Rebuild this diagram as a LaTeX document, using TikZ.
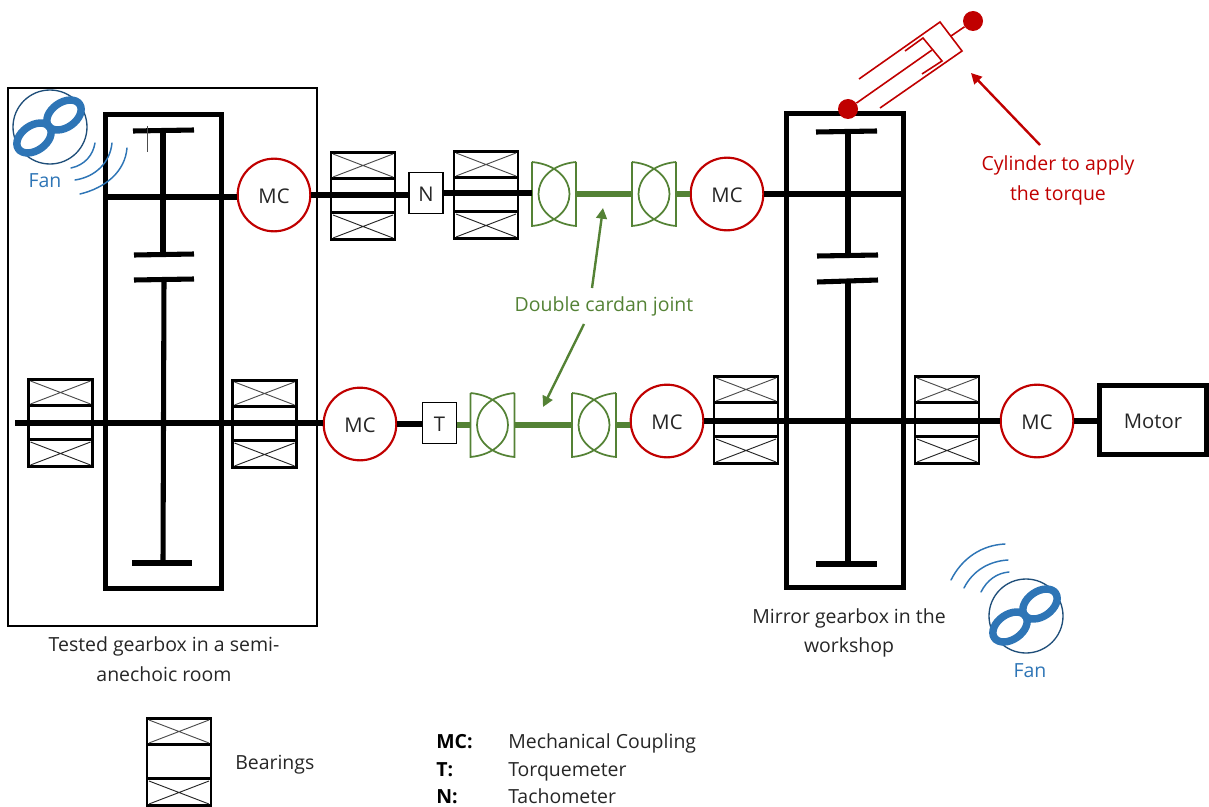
\documentclass[tikz,border=0pt]{standalone}
\usepackage{fontspec}
\setmainfont{Open Sans}
\usetikzlibrary{arrows.meta}
\definecolor{cred}{HTML}{C00000}
\definecolor{cgreen}{HTML}{548235}
\definecolor{cblue}{HTML}{2E75B6}
\definecolor{cnavy}{HTML}{1F4E79}
\tikzset{
  txt/.style={inner sep=0pt,anchor=base,font=\fontsize{14.6pt}{17pt}\selectfont,text=black!85},
  boldtxt/.style={inner sep=0pt,anchor=base west,font=\fontsize{14.6pt}{17pt}\selectfont\bfseries,text=black},
  mcnode/.style={circle,draw=cred,line width=1.6pt,minimum size=54.5pt,inner sep=0pt,font=\fontsize{15.2pt}{17pt}\selectfont,text=black!85,fill=white,text height=13pt,text depth=0pt},
  smallbox/.style={rectangle,draw=black,line width=1.1pt,minimum width=25.5pt,minimum height=30.5pt,inner sep=0pt,font=\fontsize{15.2pt}{17pt}\selectfont,text=black!85,fill=white,text height=13pt,text depth=0pt},
  motorbox/.style={rectangle,draw=black,line width=3.4pt,minimum width=80pt,minimum height=52pt,inner sep=0pt,font=\fontsize{15.2pt}{17pt}\selectfont,text=black!85,text height=12.5pt,text depth=0pt},
  gearbox/.style={rectangle,draw=black,line width=3.8pt,minimum width=87.5pt,inner sep=0pt},
  shaft/.style={draw=black,line width=4pt},
  gearbar/.style={draw=black,line width=3.8pt},
  gshaft/.style={draw=cgreen,line width=3.9pt},
  bearingbox/.style={rectangle,draw=black,line width=2.2pt,minimum width=48pt,minimum height=65.5pt,inner sep=0pt},
  jointbox/.style={rectangle,minimum width=33pt,minimum height=48pt,inner sep=0pt},
  jointline/.style={draw=cgreen,line width=1.3pt},
  cyl/.style={draw=cred,line width=1.2pt},
  ballnode/.style={circle,fill=cred,minimum size=15pt,inner sep=0pt},
  callg/.style={draw=cgreen,line width=1.8pt,-{Triangle[length=8pt,width=8pt]}},
  callr/.style={draw=cred,line width=1.8pt,-{Triangle[length=8pt,width=8pt]}},
  fanc/.style={circle,draw=cnavy,line width=1pt,minimum size=55.5pt,inner sep=0pt},
  fanlobe/.style={draw=cblue,line width=5.6pt},
  fanarc/.style={draw=cblue,line width=1.1pt,line cap=round},
}
\newcommand{\bearing}[3]{%
  \node[bearingbox] (#1) at (#2,#3) {};
  \draw[line width=2.2pt] (#2-32,#3-17.5) -- (#2+32,#3-17.5) (#2-32,#3+16.5) -- (#2+32,#3+16.5);
  \draw[line width=0.7pt,black!70] (#2-30,#3-42) -- (#2+30,#3-19) (#2-30,#3-19) -- (#2+30,#3-42);
  \draw[line width=0.7pt,black!85] (#2-30,#3+19) -- (#2+30,#3+42) (#2-30,#3+42) -- (#2+30,#3+19);
}
\newcommand{\joint}[3]{%
  \node[jointbox] (#1) at (#2,#3) {};
  \draw[jointline] (#2-22,#3-32) -- (#2-22,#3+32)
     .. controls (#2+28,#3+27) and (#2+28,#3-27) .. (#2-22,#3-32);
  \draw[jointline] (#2+22,#3-32) -- (#2+22,#3+32)
     .. controls (#2-28,#3+27) and (#2-28,#3-27) .. (#2+22,#3-32);
}
\newcommand{\fan}[3]{%
  \node[fanc] (#1) at (#2,#3) {};
  \draw[fanlobe,rotate around={35:(#2+14,#3-12)}] (#2+14,#3-12) ellipse (19 and 12.5);
  \draw[fanlobe,rotate around={35:(#2-16,#3+11)}] (#2-16,#3+11) ellipse (19 and 12.5);
}
\begin{document}
\begin{tikzpicture}[x=0.75pt,y=-0.75pt]
\useasboundingbox (0,0) rectangle (1209,806);
% enclosures
\node[rectangle,draw=black,line width=1.8pt,minimum width=231.5pt,minimum height=403.5pt,inner sep=0pt] (room) at (162.5,357) {};
\node[gearbox,minimum height=356pt] (gbL) at (163.5,351.5) {};
\node[gearbox,minimum height=355pt] (gbR) at (845,350.5) {};
% bearings
\bearing{b1}{363}{196}
\bearing{b2}{486}{195}
\bearing{b3}{60.5}{423}
\bearing{b4}{264.5}{424}
\bearing{b5}{746}{420}
\bearing{b6}{947}{420}
\bearing{b7}{179}{762}
% left gears
\coordinate (lg1a) at (133,131); \coordinate (lg1b) at (194,130);
\coordinate (lg2a) at (134,255); \coordinate (lg2b) at (194,254);
\coordinate (lg3a) at (134,280); \coordinate (lg3b) at (194,279);
\coordinate (lg4a) at (132,563); \coordinate (lg4b) at (192,563);
\coordinate (lv1a) at (163,130); \coordinate (lv1b) at (163,255);
\coordinate (lv2a) at (164,279); \coordinate (lv2b) at (163,563);
\draw[gearbar] (lg1a) -- (lg1b); \draw[gearbar] (lg2a) -- (lg2b);
\draw[gearbar] (lg3a) -- (lg3b); \draw[gearbar] (lg4a) -- (lg4b);
\draw[gearbar] (lv1a) -- (lv1b); \draw[gearbar] (lv2a) -- (lv2b);
\coordinate (tick1) at (147,126); \coordinate (tick2) at (147,152);
\draw[line width=0.5pt,black!70] (tick1) -- (tick2);
% right gears
\coordinate (rg1a) at (816,132); \coordinate (rg1b) at (877,131);
\coordinate (rg2a) at (817,256); \coordinate (rg2b) at (878,255);
\coordinate (rg3a) at (817,282); \coordinate (rg3b) at (878,280);
\coordinate (rg4a) at (816,564); \coordinate (rg4b) at (877,564);
\coordinate (rv1a) at (848,132); \coordinate (rv1b) at (848,256);
\coordinate (rv2a) at (848,281); \coordinate (rv2b) at (848,564);
\draw[gearbar] (rg1a) -- (rg1b); \draw[gearbar] (rg2a) -- (rg2b);
\draw[gearbar] (rg3a) -- (rg3b); \draw[gearbar] (rg4a) -- (rg4b);
\draw[gearbar] (rv1a) -- (rv1b); \draw[gearbar] (rv2a) -- (rv2b);
% nodes on shafts
\node[mcnode] (mc1) at (274,195) {MC};
\node[mcnode] (mc2) at (727,194) {MC};
\node[mcnode] (mc3) at (360,424) {MC};
\node[mcnode] (mc4) at (667,421) {MC};
\node[mcnode] (mc5) at (1037,421) {MC};
\node[smallbox] (n) at (426,193) {N};
\node[smallbox] (t) at (439.5,423) {T};
\node[motorbox] (motor) at (1153,420) {Motor};
\joint{j1}{554}{194}
\joint{j2}{654}{194}
\joint{j3}{492.5}{425}
\joint{j4}{594}{425}
% shafts
\coordinate (sA) at (105,197); \coordinate (sAe) at (237,197);
\coordinate (sB) at (903,193); \coordinate (sC) at (15,423);
\draw[shaft] (sA) -- (sAe);
\draw[shaft] (mc1.east) -- (mc1.east -| n.west);
\draw[shaft] (n.east) -- (n.east -| j1.west);
\draw[shaft] (mc2.east) -- (mc2.east -| sB);
\draw[shaft] (sC) -- (sC -| mc3.west);
\draw[shaft] (mc3.east) -- (mc3.east -| t.west);
\draw[shaft] (mc4.east) -- (mc5.west);
\draw[shaft] (mc5.east) -- (mc5.east -| motor.west);
\draw[gshaft] (j1.east) -- (j2.west);
\draw[gshaft] (j2.east) -- (j2.east -| mc2.west);
\draw[gshaft] (t.east |- j3.west) -- (j3.west);
\draw[gshaft] (j3.east) -- (j4.west);
\draw[gshaft] (j4.east) -- (j4.east -| mc4.west);
% cylinder
\node[ballnode] (ball1) at (848,109) {};
\node[ballnode] (ball2) at (973,21) {};
\coordinate (c1) at (940,22); \coordinate (c2) at (962,51);
\coordinate (c3) at (859,79); \coordinate (c4) at (880,108);
\coordinate (c5) at (951,36);
\coordinate (p1) at (923,38); \coordinate (p2) at (942,61);
\coordinate (p3) at (905,51); \coordinate (p4) at (922,74);
\coordinate (p5) at (932,50);
\draw[cyl] (c3) -- (c1) -- (c2) -- (c4);
\draw[cyl] (c5) -- (ball2);
\draw[cyl] (ball1) -- (p5);
\draw[cyl] (p3) -- (p1) -- (p2) -- (p4);
\coordinate (ra) at (1040,145); \coordinate (rb) at (971,73);
\draw[callr] (ra) -- (rb);
% fans
\fan{fan1}{50}{127}
\coordinate (a1) at (71,168); \coordinate (a2) at (95,143);
\coordinate (a3) at (75,180); \coordinate (a4) at (112,143);
\coordinate (a5) at (80,194); \coordinate (a6) at (127,148);
\draw[fanarc] (a1) .. controls (85,165) and (93,155) .. (a2);
\draw[fanarc] (a3) .. controls (95,177) and (110,163) .. (a4);
\draw[fanarc] (a5) .. controls (105,188) and (125,172) .. (a6);
\fan{fan2}{1026}{616}
\coordinate (e1) at (981,592); \coordinate (e2) at (1009,572);
\coordinate (e3) at (964,588); \coordinate (e4) at (1008,560);
\coordinate (e5) at (951,580); \coordinate (e6) at (1005,544);
\draw[fanarc] (e1) .. controls (987,580) and (997,573) .. (e2);
\draw[fanarc] (e3) .. controls (973,570) and (990,561) .. (e4);
\draw[fanarc] (e5) .. controls (962,558) and (982,545) .. (e6);
% green callouts
\node[txt,text=cgreen] (dcj) at (604,311) {Double cardan joint};
\coordinate (g1) at (592,288); \coordinate (g2) at (603,208);
\coordinate (g3) at (584,324); \coordinate (g4) at (543,407);
\draw[callg] (g1) -- (g2);
\draw[callg] (g3) -- (g4);
% labels
\node[txt,text=cblue] (fl1) at (45,187) {Fan};
\node[txt,text=cblue] (fl2) at (1030,677) {Fan};
\node[txt,text=cred] (cl1) at (1058,171) {Cylinder to apply};
\node[txt,text=cred] (cl2) at (1058,200) {the torque};
\node[txt] (tg1) at (164,651) {Tested gearbox in a semi-};
\node[txt] (tg2) at (164,681) {anechoic room};
\node[txt] (mg1) at (849,623) {Mirror gearbox in the};
\node[txt] (mg2) at (849,652) {workshop};
\node[txt,anchor=base west] (lb) at (235,769) {Bearings};
\node[boldtxt] (k1) at (436,748) {MC:};
\node[boldtxt] (k2) at (436,776) {T:};
\node[boldtxt] (k3) at (436,803) {N:};
\node[txt,anchor=base west] (v1) at (508,748) {Mechanical Coupling};
\node[txt,anchor=base west] (v2) at (508,776) {Torquemeter};
\node[txt,anchor=base west] (v3) at (508,803) {Tachometer};
\end{tikzpicture}
\end{document}
